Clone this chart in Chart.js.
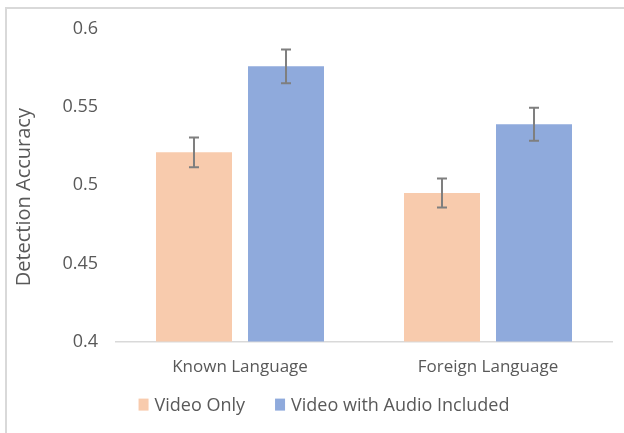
<!DOCTYPE html>
<html>
<head>
<meta charset="utf-8">
<script src="https://cdn.jsdelivr.net/npm/chart.js@4"></script>
<style>
    html, body { margin: 0; padding: 0; background: #fff; }
    #wrap { width: 624px; height: 433px; }
</style>
</head>
<body>
<div id="wrap"><canvas id="chart" width="624" height="433"></canvas></div>
<script>
// Chart data
const categories = ['Known Language', 'Foreign Language'];
const seriesNames = ['Video Only', 'Video with Audio Included'];
const videoOnly = [0.521, 0.495];
const videoAudio = [0.576, 0.539];
const videoOnlyErr = [0.0095, 0.0093];
const videoAudioErr = [0.0108, 0.0106];
const yTicks = [0.4, 0.45, 0.5, 0.55, 0.6];
const yTitle = 'Detection Accuracy';

const FONT = '"Open Sans", "Noto Sans", sans-serif';
const TEXT = '#595959';

// Light frame round the chart
const framePlugin = {
    id: 'frame',
    beforeDraw(chart) {
        const ctx = chart.ctx;
        ctx.save();
        ctx.strokeStyle = '#d9d9d9';
        ctx.lineWidth = 2;
        ctx.beginPath();
        ctx.moveTo(6, chart.height);
        ctx.lineTo(6, 8);
        ctx.lineTo(chart.width, 8);
        ctx.stroke();
        ctx.restore();
    }
};

// Error bars drawn through the y scale
const errorBarPlugin = {
    id: 'errorBars',
    afterDatasetsDraw(chart) {
        const ctx = chart.ctx;
        const y = chart.scales.y;
        ctx.save();
        ctx.strokeStyle = '#7f7f7f';
        ctx.lineWidth = 2;
        chart.data.datasets.forEach((ds, i) => {
            const meta = chart.getDatasetMeta(i);
            meta.data.forEach((bar, j) => {
                const v = ds.data[j];
                const e = ds.errors[j];
                const top = y.getPixelForValue(v + e);
                const bot = y.getPixelForValue(v - e);
                const half = 5;
                ctx.beginPath();
                ctx.moveTo(bar.x, top);
                ctx.lineTo(bar.x, bot);
                ctx.moveTo(bar.x - half, top);
                ctx.lineTo(bar.x + half, top);
                ctx.moveTo(bar.x - half, bot);
                ctx.lineTo(bar.x + half, bot);
                ctx.stroke();
            });
        });
        ctx.restore();
    }
};

// Excel-like legend under the axis, plus the y title a bit below centre
const legendPlugin = {
    id: 'bottomLegend',
    afterDraw(chart) {
        const ctx = chart.ctx;
        const area = chart.chartArea;
        ctx.save();
        ctx.fillStyle = TEXT;
        ctx.textBaseline = 'middle';

        // legend
        ctx.font = '18px ' + FONT;
        const items = chart.data.datasets.map((ds) => ({
            text: ds.label,
            color: ds.backgroundColor,
            w: ctx.measureText(ds.label).width
        }));
        const box = 10;
        const gapText = 6;
        const gapItem = 30;
        let total = gapItem * (items.length - 1);
        items.forEach((it) => { total += box + gapText + it.w; });
        let x = (chart.width - total) / 2 + 12;
        const ly = area.bottom + 63;
        ctx.textAlign = 'left';
        items.forEach((it) => {
            ctx.fillStyle = it.color;
            ctx.fillRect(x, ly - 6, box, 12);
            x += box + gapText;
            ctx.fillStyle = TEXT;
            ctx.fillText(it.text, x, ly + 1);
            x += it.w + gapItem;
        });

        // y axis title
        ctx.font = '20px ' + FONT;
        ctx.textAlign = 'center';
        ctx.translate(24, (area.top + area.bottom) / 2 + 12);
        ctx.rotate(-Math.PI / 2);
        ctx.fillText(yTitle, 0, 0);
        ctx.restore();
    }
};

function drawChart() {
    new Chart(document.getElementById('chart'), {
        type: 'bar',
        data: {
            labels: categories,
            datasets: [
                {
                    label: seriesNames[0],
                    data: videoOnly,
                    errors: videoOnlyErr,
                    backgroundColor: '#f8cbad',
                    categoryPercentage: 0.742,
                    barPercentage: 0.826
                },
                {
                    label: seriesNames[1],
                    data: videoAudio,
                    errors: videoAudioErr,
                    backgroundColor: '#8faadc',
                    categoryPercentage: 0.742,
                    barPercentage: 0.826
                }
            ]
        },
        options: {
            responsive: false,
            animation: false,
            layout: {
                padding: { left: 14, top: 24, right: 12, bottom: 41 }
            },
            plugins: {
                legend: { display: false },
                tooltip: { enabled: false }
            },
            scales: {
                x: {
                    grid: { display: false, drawTicks: false },
                    border: { display: true, color: '#d9d9d9', width: 1.5 },
                    ticks: {
                        color: TEXT,
                        padding: 15,
                        font: { family: FONT, size: 17 }
                    }
                },
                y: {
                    min: 0.4,
                    max: 0.6,
                    afterFit(scale) { scale.width = 102; },
                    afterBuildTicks(scale) {
                        scale.ticks = yTicks.map((v) => ({ value: v }));
                    },
                    grid: { display: false, drawTicks: false },
                    border: { display: false },
                    ticks: {
                        color: TEXT,
                        padding: 18,
                        font: { family: FONT, size: 18 },
                        callback: (v) => String(+v.toFixed(2))
                    }
                }
            }
        },
        plugins: [framePlugin, errorBarPlugin, legendPlugin]
    });
}

// Make sure the font is ready before the canvas draws text
document.fonts.load('17px "Open Sans"').then(drawChart, drawChart);
</script>
</body>
</html>
